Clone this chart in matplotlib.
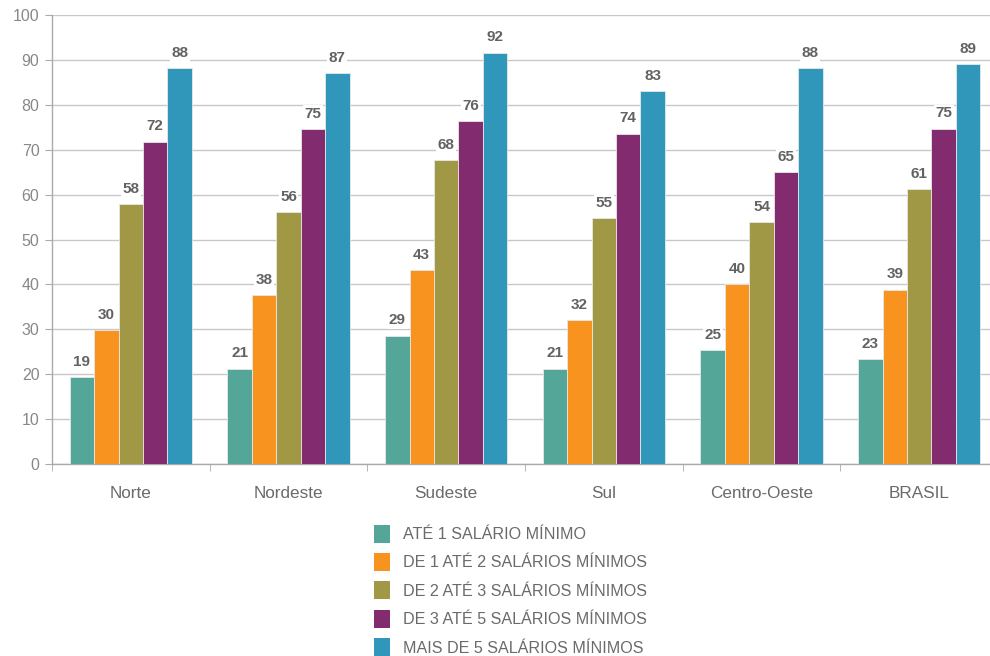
import matplotlib
matplotlib.use("Agg")
import matplotlib.pyplot as plt
import numpy as np
from matplotlib.patches import Patch

plt.rcParams['font.family'] = ['Liberation Sans', 'DejaVu Sans']

categories = ["Norte", "Nordeste", "Sudeste", "Sul", "Centro-Oeste", "BRASIL"]
series_names = ["ATÉ 1 SALÁRIO MÍNIMO", "DE 1 ATÉ 2 SALÁRIOS MÍNIMOS",
                "DE 2 ATÉ 3 SALÁRIOS MÍNIMOS", "DE 3 ATÉ 5 SALÁRIOS MÍNIMOS",
                "MAIS DE 5 SALÁRIOS MÍNIMOS"]
ate1 = [19.4, 21.2, 28.6, 21.2, 25.4, 23.4]
de1a2 = [29.8, 37.6, 43.2, 32.1, 40.1, 38.8]
de2a3 = [57.9, 56.1, 67.6, 54.8, 53.9, 61.2]
de3a5 = [71.8, 74.6, 76.4, 73.6, 65.0, 74.7]
mais5 = [88.1, 87.1, 91.6, 83.0, 88.1, 89.0]
series = [ate1, de1a2, de2a3, de3a5, mais5]
colors = ["#54A698", "#F7931E", "#A09845", "#832B6F", "#3097BB"]

fig = plt.figure(figsize=(9.9, 6.56), dpi=100)
ax = fig.add_axes([52/990, 1-464/656, 946/990, 449/656])

x = np.arange(len(categories))
w = 0.155
for i, (vals, c) in enumerate(zip(series, colors)):
    xs = x + (i - 2) * w
    ax.bar(xs, vals, width=w, color=c, edgecolor="#e8e8e8", linewidth=0.6, zorder=3)
    for xi, v in zip(xs, vals):
        ax.annotate(f"{v:.0f}", (xi, v), xytext=(0, 6), textcoords="offset points",
                    ha="center", va="bottom", fontsize=11, fontweight="bold",
                    color="#626262", zorder=4,
                    bbox=dict(boxstyle="square,pad=0.1", facecolor="white", edgecolor="none"))

ax.set_xlim(-0.5, len(categories) - 0.5)
ax.set_ylim(0, 100)
ax.set_yticks(np.arange(0, 101, 10))
ax.yaxis.grid(True, color="#c8c8c8", linewidth=1, zorder=0)
ax.set_axisbelow(True)
ax.set_xticks(x)
ax.set_xticklabels(categories, fontsize=12.3, color="#6a6a6a")
ax.set_xticks(np.arange(-0.5, len(categories), 1), minor=True)
ax.tick_params(axis="x", which="major", length=0, pad=16)
ax.tick_params(axis="x", which="minor", length=5, color="#aaaaaa")
ax.tick_params(axis="y", length=5, color="#aaaaaa", labelsize=11.5, labelcolor="#888888", pad=4)
for s in ["top", "right"]:
    ax.spines[s].set_visible(False)
for s in ["left", "bottom"]:
    ax.spines[s].set_color("#aaaaaa")
    ax.spines[s].set_linewidth(1)

handles = [Patch(facecolor=c, edgecolor="none") for c in colors]
leg = fig.legend(handles, series_names, loc="upper left",
                 bbox_to_anchor=(359/990, 1-510/656), frameon=False,
                 fontsize=11.6, labelcolor="#6a6a6a", handlelength=1.05,
                 handleheight=1.35, handletextpad=0.8, labelspacing=0.64)

fig.savefig("out.png", dpi=100)
